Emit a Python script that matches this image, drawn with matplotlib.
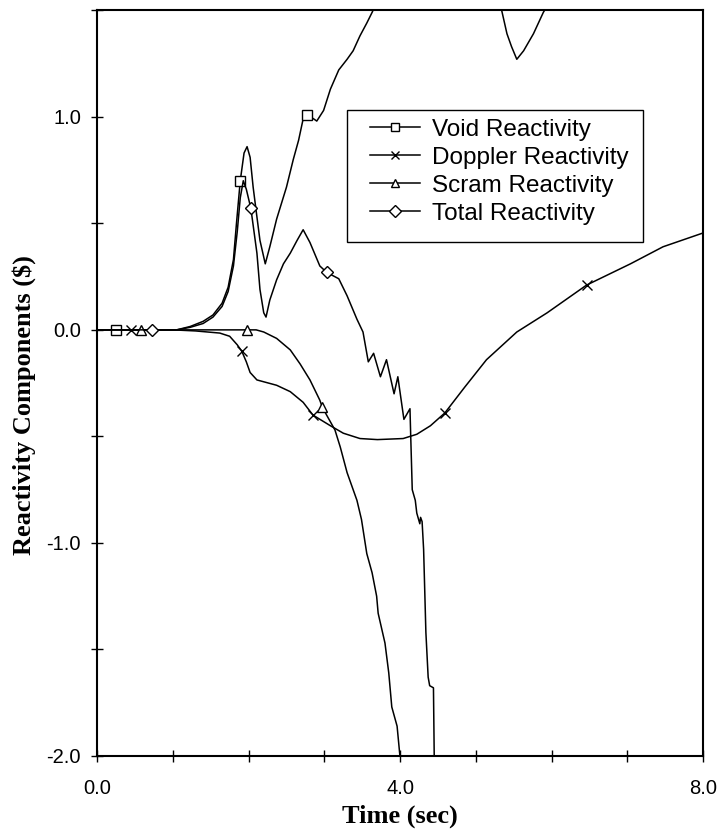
import numpy as np
import matplotlib.pyplot as plt
from matplotlib.patches import Rectangle
from matplotlib.ticker import MultipleLocator, FormatStrFormatter

plt.rcParams['font.family'] = ['Liberation Sans', 'DejaVu Sans']

# Void reactivity ($) vs time (sec)
void_t = [0, 0.25, 0.5, 0.8, 1.05, 1.23, 1.40, 1.53, 1.65, 1.73, 1.80, 1.84, 1.89, 1.94, 1.98,
          2.02, 2.06, 2.11, 2.15, 2.22, 2.28, 2.37, 2.50, 2.59, 2.66, 2.72, 2.77, 2.86, 2.90, 2.99,
          3.08, 3.19, 3.30, 3.38, 3.47, 3.56, 3.63, 3.80, 4.20, 4.60, 5.00, 5.34, 5.41, 5.47, 5.54,
          5.63, 5.76, 5.89, 5.94, 6.30, 6.80, 7.40, 8.00]
void_v = [0, 0, 0, 0, 0, 0.016, 0.04, 0.07, 0.125, 0.20, 0.33, 0.50, 0.70, 0.83, 0.86,
          0.81, 0.67, 0.53, 0.42, 0.31, 0.39, 0.52, 0.67, 0.80, 0.89, 0.99, 1.01, 0.99, 0.98, 1.03,
          1.13, 1.22, 1.27, 1.31, 1.38, 1.44, 1.49, 1.62, 1.80, 1.88, 1.75, 1.50, 1.39, 1.33, 1.27,
          1.31, 1.39, 1.49, 1.52, 1.75, 1.95, 2.10, 2.20]
void_marks = [0.25, 1.89, 2.77]

# Doppler reactivity
dop_t = [0, 0.45, 1.0, 1.3, 1.62, 1.75, 1.85, 1.91, 1.97, 2.02, 2.11, 2.37, 2.55, 2.72, 2.85,
         3.08, 3.25, 3.47, 3.70, 4.04, 4.22, 4.40, 4.59, 4.85, 5.14, 5.54, 5.94, 6.46, 7.04, 7.47, 8.0]
dop_v = [0, 0, 0, -0.005, -0.015, -0.03, -0.07, -0.10, -0.15, -0.20, -0.235, -0.26, -0.29, -0.34, -0.40,
         -0.45, -0.485, -0.51, -0.515, -0.51, -0.49, -0.45, -0.39, -0.27, -0.14, -0.01, 0.08, 0.21, 0.31, 0.39, 0.455]
dop_marks = [0.45, 1.91, 2.85, 4.59, 6.46]

# Scram reactivity
scram_t = [0, 0.58, 1.0, 1.98, 2.10, 2.20, 2.37, 2.55, 2.68, 2.81, 2.94, 2.97, 3.03, 3.14, 3.21,
           3.30, 3.43, 3.49, 3.56, 3.63, 3.69, 3.71, 3.80, 3.85, 3.89, 3.96, 4.00, 4.05]
scram_v = [0, 0, 0, 0, 0, -0.01, -0.04, -0.094, -0.16, -0.235, -0.33, -0.36, -0.40, -0.47, -0.55,
           -0.67, -0.80, -0.89, -1.05, -1.14, -1.25, -1.33, -1.47, -1.61, -1.77, -1.86, -2.01, -2.2]
scram_marks = [0.58, 1.98, 2.97]

# Total reactivity
tot_t = [0, 0.72, 1.05, 1.23, 1.40, 1.53, 1.65, 1.73, 1.80, 1.85, 1.89, 1.93, 1.97, 2.03, 2.11,
         2.15, 2.20, 2.23, 2.28, 2.37, 2.46, 2.55, 2.64, 2.72, 2.81, 2.94, 3.03, 3.19, 3.30, 3.43,
         3.51, 3.58, 3.65, 3.74, 3.82, 3.92, 3.97, 4.05, 4.13, 4.14, 4.16, 4.20, 4.22, 4.26, 4.27,
         4.29, 4.31, 4.34, 4.37, 4.39, 4.44, 4.45, 4.47]
tot_v = [0, 0, 0, 0.012, 0.03, 0.06, 0.11, 0.18, 0.30, 0.46, 0.62, 0.70, 0.66, 0.57, 0.36,
         0.19, 0.08, 0.06, 0.14, 0.235, 0.31, 0.36, 0.42, 0.47, 0.41, 0.30, 0.27, 0.24, 0.16, 0.05,
         -0.01, -0.15, -0.11, -0.22, -0.14, -0.30, -0.22, -0.42, -0.37, -0.50, -0.75, -0.80, -0.86, -0.91, -0.88,
         -0.90, -1.03, -1.42, -1.63, -1.67, -1.68, -2.0, -2.3]
tot_marks = [0.72, 2.03, 3.03]

series = [
    ('Void Reactivity', void_t, void_v, void_marks, 's'),
    ('Doppler Reactivity', dop_t, dop_v, dop_marks, 'x'),
    ('Scram Reactivity', scram_t, scram_v, scram_marks, '^'),
    ('Total Reactivity', tot_t, tot_v, tot_marks, 'D'),
]

fig = plt.figure(figsize=(7.19, 8.36), dpi=100)
ax = fig.add_axes([0.135, 0.0957, 0.843, 0.892])

for label, t, v, marks, mk in series:
    idx = [int(np.argmin(np.abs(np.array(t) - m))) for m in marks]
    ms = 6 if mk == 'D' else 7
    ax.plot(t, v, color='black', lw=1.1, marker=mk, markevery=idx, ms=ms,
            mfc='white', mec='black', mew=1.0, label=label)

ax.set_xlim(0, 8)
ax.set_ylim(-2.0, 1.5)
ax.xaxis.set_major_locator(MultipleLocator(4))
ax.xaxis.set_minor_locator(MultipleLocator(1))
ax.yaxis.set_major_locator(MultipleLocator(1))
ax.yaxis.set_minor_locator(MultipleLocator(0.5))
ax.xaxis.set_major_formatter(FormatStrFormatter('%.1f'))
ax.yaxis.set_major_formatter(FormatStrFormatter('%.1f'))
ax.tick_params(which='both', direction='inout', length=9, width=1.0, labelsize=14.5)
ax.tick_params(axis='x', pad=12)
ax.tick_params(axis='y', pad=7)
for s in ax.spines.values():
    s.set_linewidth(1.5)

ax.set_xlabel('Time (sec)', family='Liberation Serif', fontweight='bold', fontsize=19, labelpad=5)
ax.set_ylabel('Reactivity Components ($)', family='Liberation Serif', fontweight='bold',
              fontsize=19)
ax.yaxis.set_label_coords(-0.10, 0.47)

# legend entries without their own frame; the box is drawn separately with wider side margins
leg = ax.legend(loc='upper left', bbox_to_anchor=(0.4505, 0.8546), fontsize=17.5,
                frameon=False, borderpad=0, labelspacing=0.25, handlelength=2.05,
                handletextpad=0.5, borderaxespad=0)
for h in leg.legend_handles:
    h.set_markersize(6)
ax.add_patch(Rectangle((0.4125, 0.689), 0.4885, 0.177, transform=ax.transAxes,
                       fill=True, facecolor='white', edgecolor='black', lw=1.0, zorder=4))
leg.set_zorder(5)

fig.savefig('out.png', dpi=100)
